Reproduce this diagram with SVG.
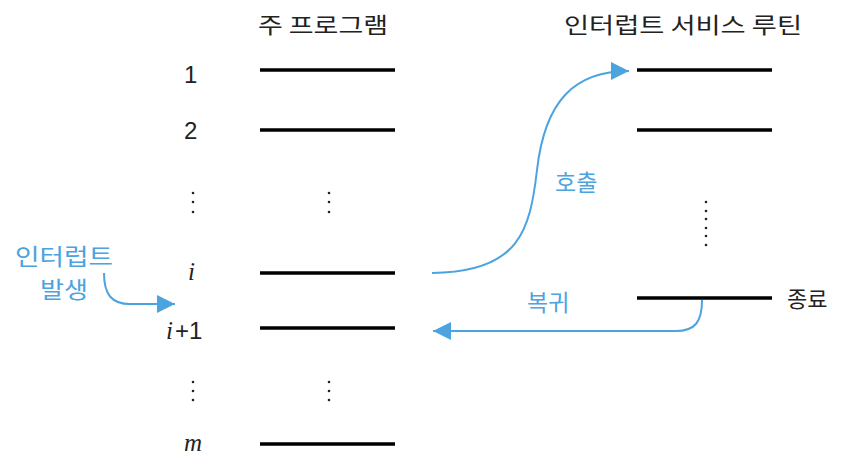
<svg xmlns="http://www.w3.org/2000/svg" width="858" height="466" viewBox="0 0 858 466">
<style>
.k{font-family:"Noto Sans CJK KR","Noto Sans",sans-serif;font-size:22px;fill:#222}
.b{font-family:"Noto Sans CJK KR","Noto Sans",sans-serif;font-size:23px;fill:#4ba3e0}
.n{font-family:"Liberation Sans",sans-serif;font-size:24px;fill:#222}
.m{font-family:"Liberation Serif",serif;font-style:italic;font-size:25px;fill:#222}
.ln{stroke:#000;stroke-width:3.5}
.c{fill:none;stroke:#4ba3e0;stroke-width:2}
.d{fill:#222}
</style>
<defs>
<marker id="ah2" viewBox="0 0 10 10" refX="10" refY="5" markerWidth="18" markerHeight="18" markerUnits="userSpaceOnUse" orient="auto">
<path d="M0,0 L10,5 L0,10 z" fill="#4ba3e0"/>
</marker>
</defs>
<g id="title-main"><text class="k" x="258" y="33" textLength="130" lengthAdjust="spacingAndGlyphs">주 프로그램</text></g>
<g id="title-isr"><text class="k" x="564" y="33" textLength="238" lengthAdjust="spacingAndGlyphs">인터럽트 서비스 루틴</text></g>
<g id="main-1"><text class="n" x="184" y="83">1</text><line class="ln" x1="260" y1="70" x2="395" y2="70"/></g>
<g id="main-2"><text class="n" x="184" y="139">2</text><line class="ln" x1="260" y1="130" x2="395" y2="130"/></g>
<g id="main-dots1"><circle class="d" cx="193" cy="193" r="1.3"/><circle class="d" cx="193" cy="202" r="1.3"/><circle class="d" cx="193" cy="212" r="1.3"/><circle class="d" cx="329" cy="193" r="1.3"/><circle class="d" cx="329" cy="202" r="1.3"/><circle class="d" cx="329" cy="212" r="1.3"/></g>
<g id="main-i"><text class="m" x="188" y="280">i</text><line class="ln" x1="260" y1="273" x2="395" y2="273"/></g>
<g id="main-i1"><text x="166" y="339"><tspan class="m">i</tspan><tspan class="n" dx="2">+1</tspan></text><line class="ln" x1="260" y1="328" x2="395" y2="328"/></g>
<g id="main-dots2"><circle class="d" cx="193" cy="382" r="1.3"/><circle class="d" cx="193" cy="391" r="1.3"/><circle class="d" cx="193" cy="400" r="1.3"/><circle class="d" cx="329" cy="382" r="1.3"/><circle class="d" cx="329" cy="391" r="1.3"/><circle class="d" cx="329" cy="400" r="1.3"/></g>
<g id="main-m"><text class="m" x="184" y="451">m</text><line class="ln" x1="260" y1="444" x2="395" y2="444"/></g>
<g id="isr-1"><line class="ln" x1="637" y1="70" x2="772" y2="70"/></g>
<g id="isr-2"><line class="ln" x1="637" y1="130" x2="772" y2="130"/></g>
<g id="isr-dots"><circle class="d" cx="706" cy="202" r="1.3"/><circle class="d" cx="706" cy="211" r="1.3"/><circle class="d" cx="706" cy="219" r="1.3"/><circle class="d" cx="706" cy="228" r="1.3"/><circle class="d" cx="706" cy="236" r="1.3"/><circle class="d" cx="706" cy="245" r="1.3"/></g>
<g id="isr-end"><line class="ln" x1="637" y1="298" x2="772" y2="298"/><text class="k" x="787" y="307" font-size="24">종료</text></g>
<g id="interrupt-label"><text class="b" x="15" y="265" font-size="22" textLength="98" lengthAdjust="spacingAndGlyphs">인터럽트</text><text class="b" x="40" y="298" font-size="22" textLength="48" lengthAdjust="spacingAndGlyphs">발생</text></g>
<g id="connectors">
<path class="c" d="M104,273 C104,295 112,304 130,304 L175,304" marker-end="url(#ah2)"/>
<path class="c" d="M432,273 C520,272 530,230 537,170 C545,100 575,71 629,71" marker-end="url(#ah2)"/>
<path class="c" d="M702,300 C702,322 695,331 676,331 L433,331" marker-end="url(#ah2)"/>
<text class="b" x="555" y="191">호출</text>
<text class="b" x="527" y="311">복귀</text>
</g>
</svg>
